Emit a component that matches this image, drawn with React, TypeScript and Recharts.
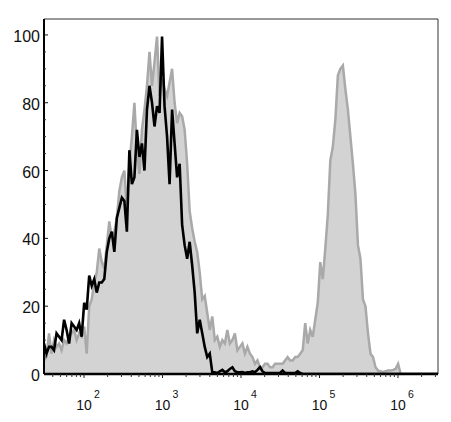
import { ComposedChart, Area, Line, XAxis, YAxis, ReferenceLine } from 'recharts';

// Histogram bins: log10 position of bin i = LO + i * STEP
const LO = 1.49;
const STEP = 0.032;
const X_MAX = 6.51;
const Y_MAX = 104.7;

// Gray filled histogram (% of max)
const grayCounts = [
  4, 5, 12, 6, 10, 8, 9, 7, 10, 9,
  11, 12, 13, 10, 12, 11, 14, 6, 20, 22,
  27, 30, 37, 33, 31, 38, 45, 40, 42, 46,
  54, 58, 60, 49, 62, 70, 80, 66, 59, 72,
  78, 85, 95, 85, 92, 99.5, 82, 87, 84, 82,
  86, 90, 80, 74, 77, 76, 72, 62, 48, 43,
  39, 36, 30, 22, 23, 18, 13, 17, 10, 11,
  8, 10, 9, 13, 9, 10, 12, 7, 8, 9,
  6, 8, 6, 5, 3, 4, 2, 2, 3, 3,
  2, 2, 3, 3, 3, 3, 4, 5, 4, 4,
  5, 5, 6, 7, 15, 9, 13, 11, 16, 21,
  33, 28, 37, 47, 63, 67, 75, 88, 90, 91,
  84, 78, 70, 62, 53, 38, 34, 22, 20, 12,
  6, 5, 2, 1, 0.8, 0.6, 0.8, 1, 1, 1.2,
  1.5, 3, 0, 0, 0, 0, 0, 0, 0, 0,
  0, 0, 0, 0, 0, 0, 0, 0,
];

// Black outline histogram
const blackCounts = [
  9, 6, 8, 8, 7, 12, 11, 10, 16, 13,
  9, 15, 14, 13, 15, 11, 21, 19, 29, 26,
  28, 24, 27, 27, 28, 36, 40, 42, 36, 46,
  49, 52, 51, 42, 66, 56, 58, 72, 64, 68,
  60, 78, 85, 80, 73, 79, 77, 99.5, 79, 70,
  56, 78, 68, 58, 62, 44, 38, 34, 39, 32,
  24, 12, 16, 12, 8, 5, 6, 0.5, 0.5, 0.3,
  0.8, 1.2, 0.5, 0.8, 1.5, 2, 0.8, 0.5, 0.5, 0.6,
  0.3, 0.5, 0.5, 0.8, 0.5, 1.2, 2, 0.8, 0.3, 0.3,
  0.3, 0.3, 0.3, 0.3, 0.3, 1, 0.3, 0.3, 0.3, 0.3,
  0.3, 0.8, 0.3, 0, 0, 0, 0, 0, 0, 0,
  0, 0, 0, 0, 0, 0, 0, 0, 0, 0,
  0, 0, 0, 0, 0, 0, 0, 0, 0, 0,
  0, 0, 0, 0, 0, 0, 0, 0, 0, 0,
  0, 0, 0, 0, 0, 0, 0, 0, 0, 0,
  0, 0, 0, 0, 0, 0, 0, 0,
];

const xExponents = [2, 3, 4, 5, 6];
const yLabels = [0, 20, 40, 60, 80, 100];

const rows = grayCounts.map((g, i) => ({
  x: LO + i * STEP,
  gray: g,
  black: blackCounts[i],
}));

// major decade ticks plus log minor ticks
const xTicks: number[] = [];
for (let d = 1; d <= 6; d++) {
  for (let k = 1; k <= 9; k++) {
    const v = d + Math.log10(k);
    if (v >= LO && v <= X_MAX) xTicks.push(v);
  }
}
const yTicks: number[] = [];
for (let v = 0; v <= 100; v += 5) yTicks.push(v);

const FONT = 'Arial, "Liberation Sans", sans-serif';

const XTick = (props: any) => {
  const { x, y, payload } = props;
  const v = payload.value;
  const exp = xExponents.find((e) => Math.abs(v - e) < 1e-6);
  if (exp === undefined) {
    return <line x1={x} y1={y} x2={x} y2={y + 3} stroke="#333" strokeWidth={1} />;
  }
  return (
    <g>
      <line x1={x} y1={y} x2={x} y2={y + 4} stroke="#222" strokeWidth={1} />
      <text x={x} y={y + 36} textAnchor="middle" fontSize={14} fontFamily={FONT} fill="#111">10</text>
      <text x={x + 10} y={y + 24} fontSize={10.5} fontFamily={FONT} fill="#111">{exp}</text>
    </g>
  );
};

const YTick = (props: any) => {
  const { x, y, payload } = props;
  const v = payload.value;
  const major = yLabels.includes(v);
  if (!major) {
    return <line x1={x} y1={y} x2={x + 2} y2={y} stroke="#333" strokeWidth={1} />;
  }
  return (
    <g>
      <line x1={x} y1={y} x2={x + 4} y2={y} stroke="#111" strokeWidth={1} />
      <text x={x - 4} y={y + 7} textAnchor="end" fontSize={16} fontFamily={FONT} fill="#111">{v}</text>
    </g>
  );
};

export default function App() {
  return (
    <div style={{ position: 'absolute', left: 0, top: 0, width: 451, height: 422, background: '#fff' }}>
      <ComposedChart width={451} height={422} data={rows} margin={{ top: 19, right: 13, bottom: 0, left: 0 }}>
        <XAxis
          dataKey="x"
          type="number"
          domain={[LO, X_MAX]}
          allowDataOverflow
          ticks={xTicks}
          interval={0}
          tick={(p: any) => <XTick {...p} />}
          tickLine={false}
          tickSize={0}
          tickMargin={0}
          height={48}
          axisLine={{ stroke: '#000', strokeWidth: 2.5 }}
        />
        <YAxis
          type="number"
          domain={[0, Y_MAX]}
          allowDataOverflow
          ticks={yTicks}
          interval={0}
          tick={(p: any) => <YTick {...p} />}
          tickLine={false}
          tickSize={0}
          tickMargin={0}
          width={44}
          axisLine={{ stroke: '#000', strokeWidth: 2 }}
        />
        <ReferenceLine y={Y_MAX} stroke="#333" strokeWidth={1} />
        <ReferenceLine x={X_MAX} stroke="#333" strokeWidth={1} />
        <Area
          dataKey="gray"
          type="linear"
          stroke="#a9a9a9"
          strokeWidth={2.5}
          fill="#d3d3d3"
          fillOpacity={1}
          dot={false}
          activeDot={false}
          isAnimationActive={false}
        />
        <Line
          dataKey="black"
          type="linear"
          stroke="#000"
          strokeWidth={2.6}
          dot={false}
          activeDot={false}
          isAnimationActive={false}
        />
      </ComposedChart>
    </div>
  );
}
